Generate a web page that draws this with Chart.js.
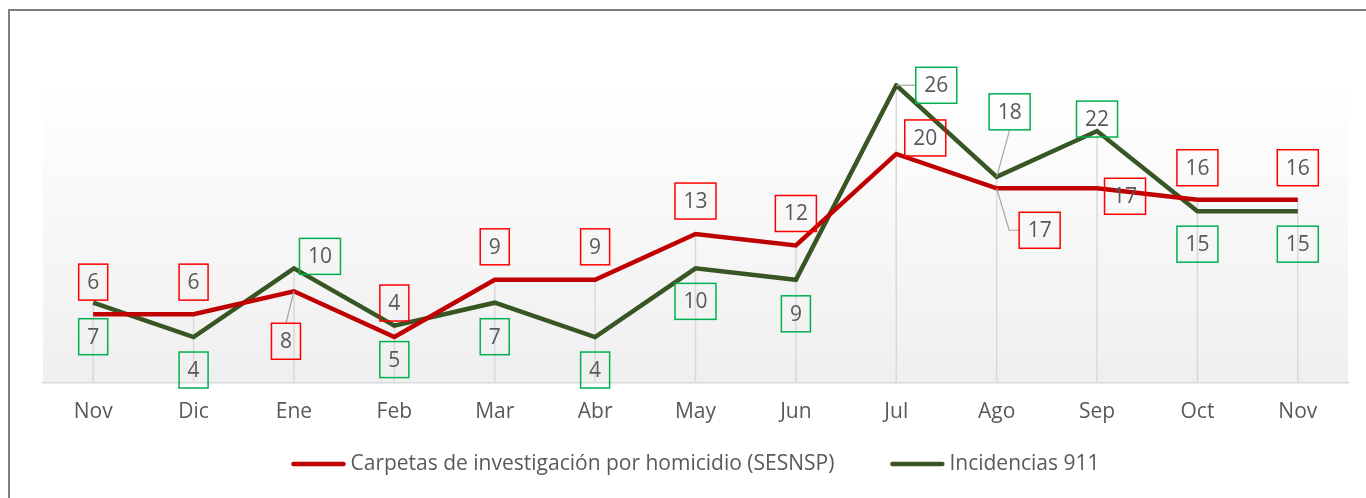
<!DOCTYPE html>
<html>
<head>
<meta charset="utf-8">
<script src="https://cdn.jsdelivr.net/npm/chart.js@4"></script>
<style>
  html, body { margin: 0; padding: 0; background: #fff; overflow: hidden; }
  #wrap { position: relative; width: 1366px; height: 498px; }
  #frame { position: absolute; left: 8px; top: 9px; width: 1400px; height: 560px;
           border: 2px solid #7f7f7f; box-sizing: border-box; }
  canvas { position: absolute; left: 0; top: 0; }
</style>
</head>
<body>
<div id="wrap">
  <div id="frame"></div>
  <canvas id="chart" width="1366" height="498"></canvas>
</div>
<script>
  const meses = ["Nov", "Dic", "Ene", "Feb", "Mar", "Abr", "May", "Jun", "Jul", "Ago", "Sep", "Oct", "Nov"];
  const carpetas = [6, 6, 8, 4, 9, 9, 13, 12, 20, 17, 17, 16, 16];
  const incidencias = [7, 4, 10, 5, 7, 4, 10, 9, 26, 18, 22, 15, 15];

  // where each data label sits, relative to its point (px)
  const carpetasEtq = [[0,-32],[0,-32],[-8,50],[0,-34],[0,-33],[0,-33],[0,-33],[0,-32],[29,-16],[43,42],[28,8],[0,-32],[0,-32]];
  const incidenciasEtq = [[0,34],[0,33],[26,-12],[0,34],[0,34],[0,33],[0,33],[0,34],[40,0],[13,-65],[0,-12],[0,33],[0,33]];
  const carpetasGuia = [false,false,true,false,false,false,false,false,false,true,false,false,false];
  const incidenciasGuia = [false,false,false,false,false,false,false,false,true,true,false,false,false];

  const FONT = "'Open Sans', 'DejaVu Sans', sans-serif";
  const GRIS = "#595959";

  const fondo = {
    id: "fondo",
    beforeDraw(chart) {
      const { ctx, chartArea: a } = chart;
      const g = ctx.createLinearGradient(0, a.top, 0, a.bottom);
      g.addColorStop(0, "#ffffff");
      g.addColorStop(1, "#efefef");
      ctx.save();
      ctx.fillStyle = g;
      ctx.fillRect(a.left, a.top, a.right - a.left, a.bottom - a.top);
      ctx.restore();
    },
    beforeDatasetsDraw(chart) {
      // lineas de caida
      const { ctx, chartArea: a } = chart;
      const m0 = chart.getDatasetMeta(0).data, m1 = chart.getDatasetMeta(1).data;
      ctx.save();
      ctx.strokeStyle = "#d9d9d9";
      ctx.lineWidth = 1.5;
      m0.forEach((p, i) => {
        const y = Math.min(p.y, m1[i].y);
        ctx.beginPath();
        ctx.moveTo(p.x, y);
        ctx.lineTo(p.x, a.bottom);
        ctx.stroke();
      });
      ctx.restore();
    }
  };

  function etiquetas(chart, idx, offs, guias, color) {
    const { ctx } = chart;
    const meta = chart.getDatasetMeta(idx);
    const vals = chart.data.datasets[idx].data;
    ctx.save();
    ctx.font = "21px " + FONT;
    meta.data.forEach((p, i) => {
      const txt = String(vals[i]);
      const w = ctx.measureText(txt).width + 17;
      const h = 36;
      const cx = p.x + offs[i][0], cy = p.y + offs[i][1];
      const l = cx - w / 2, r = cx + w / 2, t = cy - h / 2, b = cy + h / 2;
      if (guias[i]) {
        ctx.strokeStyle = "#a6a6a6";
        ctx.lineWidth = 1.2;
        ctx.beginPath();
        ctx.moveTo(p.x, p.y);
        if (p.x >= l && p.x <= r) {
          ctx.lineTo(cx, p.y < t ? t : b);
        } else {
          const ex = p.x < l ? l : r;
          ctx.lineTo(ex + (p.x < l ? -10 : 10), cy);
          ctx.lineTo(ex, cy);
        }
        ctx.stroke();
      }
      ctx.strokeStyle = color;
      ctx.lineWidth = 1.5;
      ctx.strokeRect(l, t, w, h);
      ctx.fillStyle = GRIS;
      ctx.textAlign = "center";
      ctx.textBaseline = "middle";
      ctx.fillText(txt, cx, cy + 1);
    });
    ctx.restore();
  }

  const rotulos = {
    id: "rotulos",
    afterDatasetsDraw(chart) {
      etiquetas(chart, 0, carpetasEtq, carpetasGuia, "#ff0000");
      etiquetas(chart, 1, incidenciasEtq, incidenciasGuia, "#00b050");
    },
    afterDraw(chart) {
      // leyenda
      const { ctx, chartArea: a } = chart;
      ctx.save();
      ctx.font = "21px " + FONT;
      const muestra = 54, sep = 5, hueco = 56;
      const items = chart.data.datasets.map(d => ({ txt: d.label, color: d.borderColor, w: ctx.measureText(d.label).width }));
      let total = items.reduce((s, it) => s + muestra + sep + it.w, 0) + hueco * (items.length - 1);
      let x = (a.left + a.right) / 2 - total / 2;
      const y = 464;
      items.forEach(it => {
        ctx.strokeStyle = it.color;
        ctx.lineWidth = 4.5;
        ctx.lineCap = "round";
        ctx.beginPath();
        ctx.moveTo(x + 2, y);
        ctx.lineTo(x + muestra - 2, y);
        ctx.stroke();
        ctx.fillStyle = GRIS;
        ctx.textBaseline = "middle";
        ctx.fillText(it.txt, x + muestra + sep, y);
        x += muestra + sep + it.w + hueco;
      });
      ctx.restore();
    }
  };

  new Chart(document.getElementById("chart"), {
    type: "line",
    data: {
      labels: meses,
      datasets: [
        {
          label: "Carpetas de investigación por homicidio (SESNSP)",
          data: carpetas,
          borderColor: "#c00000",
          backgroundColor: "#c00000",
          borderWidth: 4.5,
          pointRadius: 0,
          tension: 0,
        },
        {
          label: "Incidencias 911",
          data: incidencias,
          borderColor: "#375623",
          backgroundColor: "#375623",
          borderWidth: 4.5,
          pointRadius: 0,
          tension: 0,
        },
      ],
    },
    options: {
      responsive: false,
      animation: false,
      layout: { padding: { left: 43, right: 18, top: 83, bottom: 64 } },
      plugins: {
        legend: { display: false },
        tooltip: { enabled: false },
      },
      scales: {
        x: {
          offset: true,
          grid: { display: false },
          border: { display: true, color: "#d9d9d9", width: 1.5 },
          ticks: { color: GRIS, font: { family: FONT, size: 21 }, padding: 9, maxRotation: 0 },
        },
        y: {
          display: false,
          min: 0,
          max: 26.2,
        },
      },
    },
    plugins: [fondo, rotulos],
  });
</script>
</body>
</html>
